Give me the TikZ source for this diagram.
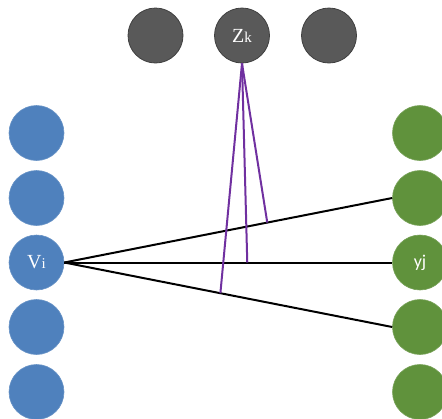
\documentclass[tikz,border=0pt]{standalone}
\usepackage{fontspec}
\setmainfont{Liberation Serif}
\newfontfamily\labsans{Carlito}
\definecolor{nodeblue}{RGB}{79,129,189}
\definecolor{nodegreen}{RGB}{96,146,60}
\definecolor{nodegray}{RGB}{89,89,89}
\definecolor{linkpurple}{RGB}{112,48,160}
\begin{document}
\begin{tikzpicture}[x=1pt, y=-1pt,
  unit/.style={circle, minimum size=55pt, inner sep=0pt, text=white},
  vunit/.style={unit, fill=nodeblue, draw=nodeblue!85!white, line width=0.6pt},
  yunit/.style={unit, fill=nodegreen, draw=nodegreen!85!white, line width=0.6pt},
  zunit/.style={unit, fill=nodegray, draw=black!75, line width=0.8pt},
  link/.style={black, line width=2pt},
  attn/.style={linkpurple, line width=2pt}]
\useasboundingbox (0,0) rectangle (442,418);
\node[zunit] (z1) at (155.5,35.5) {};
\node[zunit] (zk) at (242,35.5) {{\fontsize{20}{20}\selectfont Z}{\fontsize{15}{15}\selectfont k}};
\node[zunit] (z3) at (329,35.5) {};
\node[vunit] (v1) at (36.5,133) {};
\node[vunit] (v2) at (36.5,198) {};
\node[vunit] (vi) at (36.5,262.5) {{\fontsize{20}{20}\selectfont V}{\fontsize{15}{15}\selectfont i}};
\node[vunit] (v4) at (36.5,327) {};
\node[vunit] (v5) at (36.5,392) {};
\node[yunit] (y1) at (420,133) {};
\node[yunit] (y2) at (420,198) {};
\node[yunit] (yj) at (420,262.5) {\labsans\fontsize{18}{18}\selectfont yj};
\node[yunit] (y4) at (420,327) {};
\node[yunit] (y5) at (420,392) {};
\draw[link] (vi.east) -- coordinate[pos=0.619] (a1) (y2.west);
\draw[link] (vi.east) -- coordinate[pos=0.558] (a2) (yj.west);
\draw[link] (vi.east) -- coordinate[pos=0.476] (a3) (y4.west);
\draw[attn] (zk.south) -- (a1);
\draw[attn] (zk.south) -- (a2);
\draw[attn] (zk.south) -- (a3);
\end{tikzpicture}
\end{document}
